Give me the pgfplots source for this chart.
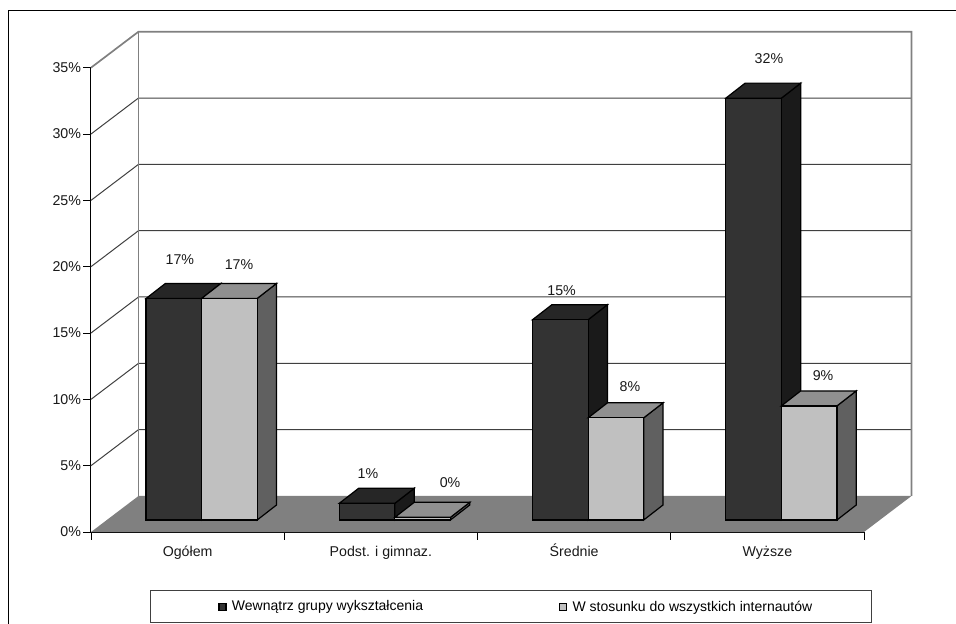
\documentclass[border=0pt]{standalone}
\usepackage{pgfplots}
\usepackage{pgfplotstable}
\usepackage{fontspec}
\setmainfont{Liberation Sans}
\pgfplotsset{compat=1.18}

\definecolor{darkfront}{HTML}{333333}
\definecolor{darktop}{HTML}{262626}
\definecolor{darkside}{HTML}{1A1A1A}
\definecolor{lightfront}{HTML}{C0C0C0}
\definecolor{lighttop}{HTML}{909090}
\definecolor{lightside}{HTML}{606060}
\definecolor{floorgray}{HTML}{808080}
\definecolor{gridgray}{HTML}{404040}

% share of respondents by education level, in percent
\pgfplotstableread{
slot dark light
0 16.7 16.7
1 1.26 0.2
2 15.1 7.7
3 31.8 8.6
}\shares

% label positions: lx = horizontal place, lift = height above the bar's value
\pgfplotstableread{
lx    val  lift
0.460 16.7 3.85
0.766 16.7 3.47
1.433 1.26 3.15
1.858 0.2  3.53
2.435 15.1 3.11
2.789 7.7  3.27
3.508 31.8 3.91
3.788 8.6  3.20
}\barlabels

% one box: #1 row, #2 column, #3 offset inside the slot, #4-#6 face colours
\newcommand{\cuboid}[6]{%
  \pgfplotstablegetelem{#1}{#2}\of\shares
  \pgfmathsetmacro{\val}{\pgfplotsretval}%
  \pgfmathsetmacro{\xa}{#1+#3}%
  \pgfmathsetmacro{\xb}{\xa+0.2875}%
  \pgfmathsetmacro{\xc}{\xb+0.1}%
  \pgfmathsetmacro{\xd}{\xa+0.1}%
  \pgfmathsetmacro{\yb}{0.905}%
  \pgfmathsetmacro{\yt}{\yb+\val}%
  \pgfmathsetmacro{\ybb}{\yb+1.131}%
  \pgfmathsetmacro{\ytb}{\yt+1.131}%
  \addplot[boxedge,fill=#6,forget plot] coordinates {(\xb,\yb) (\xc,\ybb) (\xc,\ytb) (\xb,\yt)} --cycle;
  \addplot[boxedge,fill=#5,forget plot] coordinates {(\xa,\yt) (\xd,\ytb) (\xc,\ytb) (\xb,\yt)} --cycle;
  \addplot[boxedge,fill=#4,forget plot] coordinates {(\xa,\yb) (\xb,\yb) (\xb,\yt) (\xa,\yt)} --cycle;
}

\begin{document}
\begin{tikzpicture}[x=1bp,y=1bp,
  boxedge/.style={draw=black,line width=1.2bp,line join=miter}]
  % the origin sits on the 0% corner of the front plane
  \useasboundingbox (-91bp,-92bp) rectangle (865bp,532bp);
  \draw[black,line width=1.1bp] (-82.5bp,-92bp) -- (-82.5bp,521.5bp) -- (865bp,521.5bp);
  \begin{axis}[
    scale only axis, width=773bp, height=464.3bp,
    xmin=0, xmax=4, ymin=0, ymax=35,
    clip=false,
    axis x line=bottom, axis y line=left,
    axis line style={-,black,line width=1bp},
    tick align=outside,
    xtick={0,1,2,3,4},
    xticklabels={,,,,},
    extra x ticks={0.5,1.5,2.5,3.5},
    extra x tick labels={Ogółem,Podst. i gimnaz.,Średnie,Wyższe},
    extra x tick style={major tick length=0pt,xtick style={draw=none}},
    ytick={0,5,...,35},
    major tick length=7.5bp,
    tick style={black,line width=0.8bp},
    yticklabel={\pgfmathprintnumber{\tick}\%},
    /pgf/number format/assume math mode=true,
    tick label style={font=\fontsize{14.2bp}{16bp}\selectfont,text=black!90},
    xticklabel style={text height=10bp,text depth=3bp,yshift=-11bp},
    yticklabel style={xshift=1bp},
    legend style={
      at={(59bp,-91bp)},anchor=south west,
      draw=gridgray,line width=0.9bp,
      legend columns=2,
      inner xsep=57bp,inner ysep=8bp,
      font=\fontsize{14bp}{16bp}\selectfont,
      /tikz/every even column/.append style={column sep=123bp},
      cells={anchor=west},
    },
    legend image code/.code={%
      \path[draw=none,fill=none,opacity=0] (0bp,0bp) -- (22.5bp,0bp);
      \draw[#1,line width=1.2bp] (11.5bp,-3.5bp) rectangle (18.5bp,3.5bp);},
  ]
    % floor and back walls
    \addplot[fill=floorgray,draw=none,forget plot] coordinates {(0,0) (4,0) (4.2458,2.715) (0.2458,2.715)} --cycle;
    \addplot[gridgray,line width=1bp,forget plot] coordinates {(0,5) (0.2458,7.715) (4.2458,7.715)};
    \addplot[gridgray,line width=1bp,forget plot] coordinates {(0,10) (0.2458,12.715) (4.2458,12.715)};
    \addplot[gridgray,line width=1bp,forget plot] coordinates {(0,15) (0.2458,17.715) (4.2458,17.715)};
    \addplot[gridgray,line width=1bp,forget plot] coordinates {(0,20) (0.2458,22.715) (4.2458,22.715)};
    \addplot[gridgray,line width=1bp,forget plot] coordinates {(0,25) (0.2458,27.715) (4.2458,27.715)};
    \addplot[gridgray,line width=1bp,forget plot] coordinates {(0,30) (0.2458,32.715) (4.2458,32.715)};
    \addplot[floorgray,line width=1.7bp,forget plot] coordinates {(0,35) (0.2458,37.715) (4.2458,37.715) (4.2458,2.715)};
    \addplot[floorgray,line width=1.7bp,forget plot] coordinates {(0.2458,37.715) (0.2458,2.715)};

    % boxes, back to front within each group
    \cuboid{0}{dark}{0.285}{darkfront}{darktop}{darkside}
    \cuboid{0}{light}{0.5725}{lightfront}{lighttop}{lightside}
    \cuboid{1}{dark}{0.285}{darkfront}{darktop}{darkside}
    \cuboid{1}{light}{0.5725}{lightfront}{lighttop}{lightside}
    \cuboid{2}{dark}{0.285}{darkfront}{darktop}{darkside}
    \cuboid{2}{light}{0.5725}{lightfront}{lighttop}{lightside}
    \cuboid{3}{dark}{0.285}{darkfront}{darktop}{darkside}
    \cuboid{3}{light}{0.5725}{lightfront}{lighttop}{lightside}

    % value labels
    \addplot[draw=none,mark=none,forget plot,
      point meta=explicit,
      nodes near coords={\pgfmathprintnumber[fixed,precision=0]{\pgfplotspointmeta}\%},
      every node near coord/.append style={anchor=center,inner sep=0pt,text=black!90,
        font=\fontsize{14.2bp}{16bp}\selectfont,/pgf/number format/assume math mode=true},
    ] table[x=lx,y expr=\thisrow{val}+\thisrow{lift},meta=val] {\barlabels};

    \addlegendimage{draw=black,fill=darkfront}
    \addlegendentry{Wewnątrz grupy wykształcenia}
    \addlegendimage{draw=black,fill=lightfront}
    \addlegendentry{W stosunku do wszystkich internautów}
  \end{axis}
\end{tikzpicture}
\end{document}
